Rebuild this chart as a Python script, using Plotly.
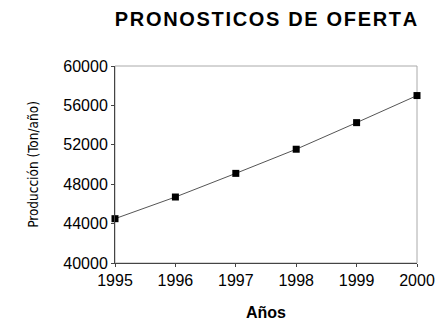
import plotly.graph_objects as go

years = [1995, 1996, 1997, 1998, 1999, 2000]
produccion = [44500, 46700, 49100, 51550, 54250, 57000]
y_ticks = [40000, 44000, 48000, 52000, 56000, 60000]
title_text = "PRONOSTICOS DE OFERTA"
x_title = "Años"
y_title = "Producción (Ton/año)"

fig = go.Figure()
fig.add_trace(go.Scatter(
    x=years, y=produccion, mode="lines+markers",
    line=dict(color="#555555", width=1),
    marker=dict(symbol="square", size=7, color="black"),
    cliponaxis=False,
))

fig.add_shape(type="rect", xref="paper", yref="paper", x0=0, y0=0, x1=1, y1=1,
              line=dict(color="#aaaaaa", width=1), layer="below")

fig.update_layout(
    width=447, height=331,
    margin=dict(l=115, r=23, t=66, b=68),
    paper_bgcolor="white", plot_bgcolor="white",
    showlegend=False,
    title=dict(text="<b>" + "\u200a".join(title_text) + "</b>",
               font=dict(family="Liberation Sans, Arial", size=20, color="black"),
               x=266 / 447, xanchor="center",
               y=1 - 19 / 331, yanchor="middle", yref="container"),
    font=dict(family="Liberation Sans, Arial", color="black"),
)
fig.update_xaxes(
    range=[1995, 2000], tickvals=years, ticktext=[str(v) for v in years],
    showgrid=False, zeroline=False, showline=True, linecolor="#444444", linewidth=1,
    ticks="outside", ticklen=3, tickcolor="#444444",
    tickfont=dict(size=16),
    title=dict(text="<b>" + x_title + "</b>", font=dict(size=16), standoff=18),
)
fig.update_yaxes(
    range=[40000, 60000], tickvals=y_ticks, ticktext=[str(v) for v in y_ticks],
    showgrid=False, zeroline=False, showline=True, linecolor="#444444", linewidth=1,
    ticks="outside", ticklen=3, tickcolor="#444444",
    tickfont=dict(size=16),
    title=dict(text=y_title, font=dict(size=13.5, family="DejaVu Sans Condensed, Liberation Sans"), standoff=21),
)

fig.write_html("out.html")
